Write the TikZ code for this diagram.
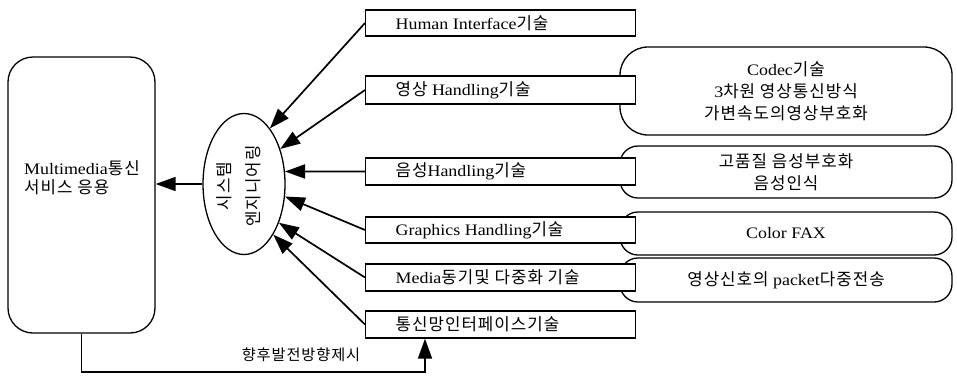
\documentclass[tikz,border=0pt]{standalone}
\usepackage{fontspec}
\setmainfont[FakeStretch=1.12]{Liberation Serif}
\newfontfamily\krfont[Scale=1.05,LetterSpace=6]{Noto Sans CJK KR}
\newcommand\kor[1]{{\krfont #1}}
\usetikzlibrary{arrows.meta,shapes.geometric,calc}
\begin{document}
\begin{tikzpicture}[x=1pt,y=-1pt,
  every node/.style={font=\fontsize{16}{19}\selectfont},
  techbox/.style={draw, line width=1.3pt, fill=white, rectangle, anchor=west,
    minimum width=270pt, inner xsep=30pt, inner ysep=0pt},
  roundbox/.style={draw, line width=1.3pt, rectangle, rounded corners=18pt,
    minimum width=332pt, align=center, inner sep=0pt,
    font=\fontsize{16}{22}\selectfont},
  conn/.style={line width=1.7pt, -{Triangle[length=20pt,width=14pt]}}
]
\useasboundingbox (0,0) rectangle (957,378);

% right-hand rounded boxes
\node[roundbox, rounded corners=28pt, minimum height=88pt] (r1) at (786,91)
  {Codec\kor{기술}\\3\kor{차원 영상통신방식}\\\kor{가변속도의영상부호화}};
\node[roundbox, minimum height=52pt] (r2) at (786,172)
  {\kor{고품질 음성부호화}\\\kor{음성인식}};
\node[roundbox, minimum height=43pt] (r3) at (786,233.5) {Color FAX};
\node[roundbox, minimum height=44pt] (r4) at (786,280)
  {\kor{영상신호의} packet\kor{다중전송}};

% technology boxes
\node[techbox, minimum height=26pt] (b1) at (365,23)
  {\makebox[210pt][l]{Human Interface\kor{기술}}};
\node[techbox, minimum height=28pt] (b2) at (365,90)
  {\makebox[210pt][l]{\kor{영상} Handling\kor{기술}}};
\node[techbox, minimum height=27pt] (b3) at (365,171.5)
  {\makebox[210pt][l]{\kor{음성}Handling\kor{기술}}};
\node[techbox, minimum height=26pt] (b4) at (365,230)
  {\makebox[210pt][l]{Graphics Handling\kor{기술}}};
\node[techbox, minimum height=27pt] (b5) at (365,277.5)
  {\makebox[210pt][l]{Media\kor{동기및 다중화 기술}}};
\node[techbox, minimum height=27pt] (b6) at (365,324.5)
  {\makebox[210pt][l]{\kor{통신망인터페이스기술}}};

% system engineering ellipse
\node[draw, ellipse, line width=1.3pt, minimum width=82pt, minimum height=141pt, inner sep=0pt] (ell) at (244,184) {};
\node[inner sep=0pt] (ellt) at (241,186)
  {\rotatebox{90}{\begin{tabular}{@{}c@{}}\kor{시스템}\\[10pt]\kor{엔지니어링}\end{tabular}}};

% service box
\node[draw, line width=1.3pt, rectangle, rounded corners=25pt, minimum width=147pt, minimum height=276pt] (svc) at (81.5,195) {};
\node[anchor=west, align=left, inner sep=0pt] (svct) at (24,178)
  {Multimedia\kor{통신}\\\kor{서비스 응용}};

% connectors
\draw[conn] (b1.west) -- (ell.65);
\draw[conn] (b2.west) -- (ell.44);
\draw[conn] (b3.west) -- (ell.17);
\draw[conn] (b4.west) -- (ell.-17);
\draw[conn] (b5.west) -- (ell.-48);
\draw[conn] (b6.west) -- (ell.-60);
\draw[conn] (ell.west) -- (ell.west -| svc.east);

% feedback
\coordinate (turn) at (425,372);
\draw[conn] (svc.south) |- (turn) -- (turn |- b6.south);
\node (fbl) at (301,355) {\kor{\fontsize{14.5}{17}\selectfont 향후발전방향제시}};
\end{tikzpicture}
\end{document}
